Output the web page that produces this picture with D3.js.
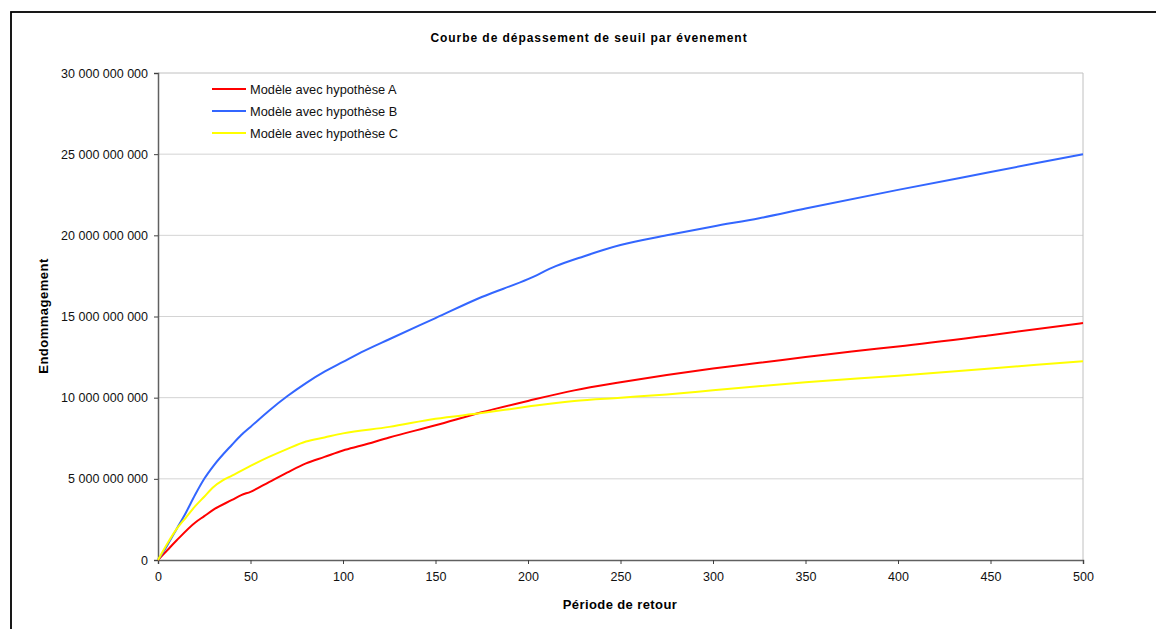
<!DOCTYPE html>
<html><head><meta charset="utf-8">
<script src="https://cdn.jsdelivr.net/npm/d3@7"></script>
<style>body{margin:0;background:#fff}svg{display:block;font-family:"Liberation Sans",Arial,sans-serif}</style>
</head><body><svg id="c" width="1156" height="629"></svg>
<script>
const title = "Courbe de dépassement de seuil par évenement";
const xTitle = "Période de retour";
const yTitle = "Endommagement";
const seriesNames = ["Modèle avec hypothèse A","Modèle avec hypothèse B","Modèle avec hypothèse C"];
const seriesColors = ["#ff0000","#3366ff","#ffff00"];
const xTicks = [0,50,100,150,200,250,300,350,400,450,500];
const yTicks = [0,5e9,10e9,15e9,20e9,25e9,30e9];
// return period points
const periodsA = [0,5,10,20,25,30,40,45,50,60,70,80,90,100,110,125,150,175,200,225,250,275,300,325,350,375,400,450,500];
const valuesA = [0,0.6,1.2,2.3,2.7,3.1,3.7,4.0,4.2,4.8,5.4,5.95,6.35,6.75,7.05,7.55,8.3,9.1,9.8,10.45,10.95,11.4,11.8,12.15,12.5,12.85,13.15,13.85,14.6].map(v=>v*1e9);
const periodsB = [0,5,10,15,20,25,30,40,45,50,60,70,80,90,100,110,125,150,175,200,215,230,250,275,300,325,350,400,450,500];
const valuesB = [0,0.9,1.9,2.9,4.0,5.0,5.8,7.1,7.7,8.2,9.2,10.1,10.9,11.6,12.2,12.8,13.6,14.9,16.2,17.3,18.1,18.7,19.4,20.0,20.55,21.05,21.65,22.8,23.9,25.0].map(v=>v*1e9);
const periodsC = [0,5,10,15,20,25,30,35,40,50,60,70,80,90,100,125,150,175,200,225,250,275,300,350,400,450,500];
const valuesC = [0,1.0,1.9,2.6,3.3,3.9,4.5,4.9,5.2,5.8,6.35,6.85,7.3,7.55,7.8,8.2,8.7,9.05,9.45,9.8,10.0,10.2,10.45,10.95,11.35,11.8,12.25].map(v=>v*1e9);
const series = [[periodsA,valuesA],[periodsB,valuesB],[periodsC,valuesC]];

const svg = d3.select("#c");
const L=158, R=1083, T=73, B=560;
const x = d3.scaleLinear().domain([0,500]).range([L,R]);
const y = d3.scaleLinear().domain([0,30e9]).range([B,T]);
const fmt = v => d3.format(",")(v).replace(/,/g," ");

// outer frame
svg.append("rect").attr("x",11).attr("y",12).attr("width",1200).attr("height",700)
  .attr("fill","none").attr("stroke","#000").attr("stroke-width",1.8);

// gridlines
svg.append("g").selectAll("line").data(yTicks.filter(d=>d>0)).join("line")
  .attr("x1",L).attr("x2",R).attr("y1",d=>y(d)).attr("y2",d=>y(d))
  .attr("stroke",d=>d===30e9?"#c0c0c0":"#d4d4d4").attr("stroke-width",1);
svg.append("line").attr("x1",R).attr("x2",R).attr("y1",T).attr("y2",B).attr("stroke","#c0c0c0");

// axes
const ya = svg.append("g").attr("transform",`translate(${L},0)`)
  .call(d3.axisLeft(y).tickValues(yTicks).tickFormat(fmt).tickSize(4).tickPadding(6));
const xa = svg.append("g").attr("transform",`translate(0,${B})`)
  .call(d3.axisBottom(x).tickValues(xTicks).tickFormat(d3.format("d")).tickSize(4).tickPadding(8));
[ya,xa].forEach(a=>{
  a.select(".domain").attr("stroke","#606060").attr("stroke-width",1.5);
  a.selectAll(".tick line").attr("stroke","#404040");
  a.selectAll("text").attr("font-size","12.5px").attr("fill","#111")
    .attr("font-family","Liberation Sans, Arial, sans-serif");
});

// lines
const line = d3.line().x(d=>x(d[0])).y(d=>y(d[1])).curve(d3.curveMonotoneX);
series.forEach((s,i)=>{
  const pts = s[0].map((p,j)=>[p,s[1][j]]);
  svg.append("path").datum(pts).attr("d",line).attr("fill","none")
    .attr("stroke",seriesColors[i]).attr("stroke-width",2).attr("stroke-linejoin","round");
});

// legend
seriesNames.forEach((n,i)=>{
  const yy = 89 + i*22;
  svg.append("line").attr("x1",212).attr("x2",246).attr("y1",yy).attr("y2",yy)
    .attr("stroke",seriesColors[i]).attr("stroke-width",2);
  svg.append("text").attr("x",250).attr("y",yy+4.6).attr("font-size","12.8px")
    .attr("fill","#111").text(n);
});

// titles
svg.append("text").attr("x",589).attr("y",42).attr("text-anchor","middle")
  .attr("font-size","12px").attr("letter-spacing","0.95px").attr("font-weight","bold").text(title);
svg.append("text").attr("x",620).attr("y",609).attr("text-anchor","middle")
  .attr("font-size","13px").attr("letter-spacing","0.4px").attr("font-weight","bold").text(xTitle);
svg.append("text").attr("transform","translate(48,316) rotate(-90)").attr("text-anchor","middle")
  .attr("font-size","13px").attr("letter-spacing","0.5px").attr("font-weight","bold").text(yTitle);
</script></body></html>
